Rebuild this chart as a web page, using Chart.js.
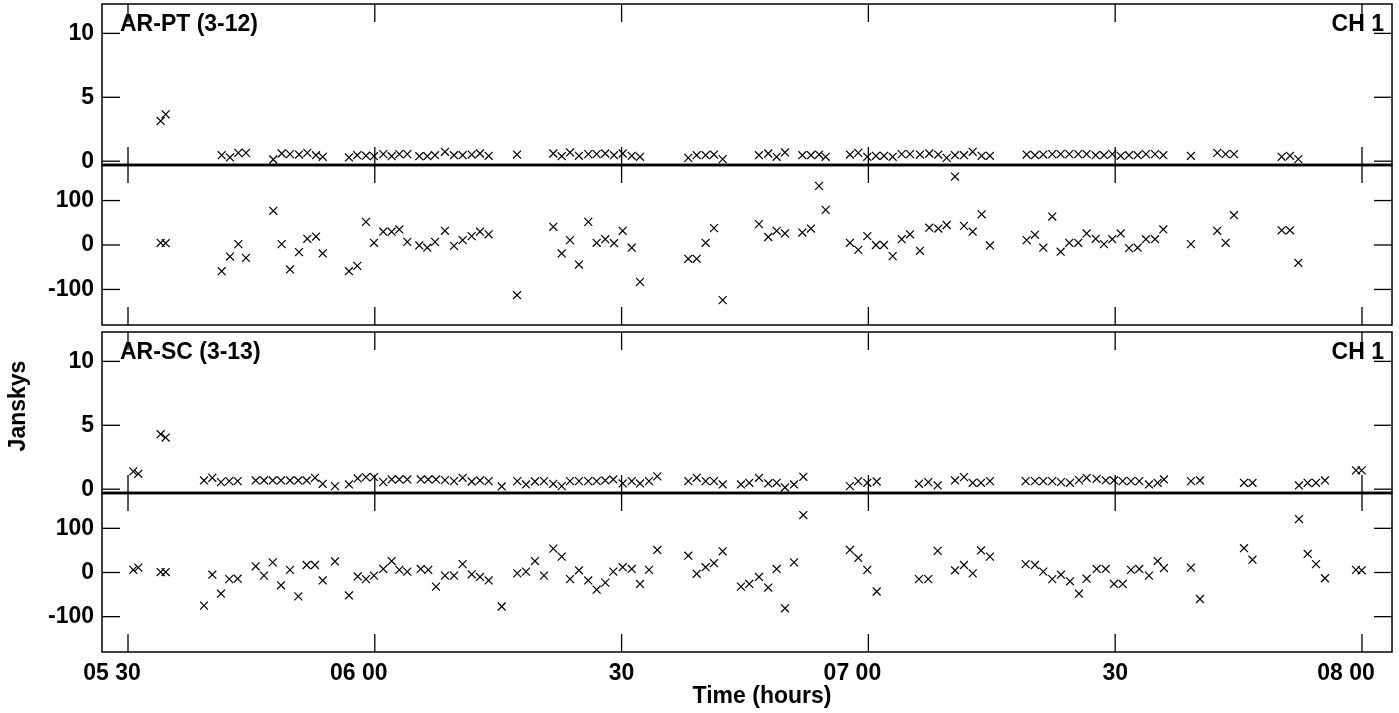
<!DOCTYPE html>
<html>
<head>
<meta charset="utf-8">
<script src="https://cdn.jsdelivr.net/npm/chart.js@4.4.0/dist/chart.umd.min.js"></script>
<style>
  html, body { margin: 0; padding: 0; background: #fff; }
  #wrap { position: relative; width: 1399px; height: 713px; overflow: hidden; }
  #wrap canvas { position: absolute; left: 0; }
</style>
</head>
<body>
<div id="wrap">
  <canvas id="ampPT"></canvas>
  <canvas id="phasePT"></canvas>
  <canvas id="ampSC"></canvas>
  <canvas id="phaseSC"></canvas>
</div>
<script>
// --- DONNEES (temps en minutes depuis 00:00) ---
const X_TICKS = [330, 360, 390, 420, 450, 480];
const X_TICK_LABELS = ['05 30', '06 00', '30', '07 00', '30', '08 00'];
const AMP_TICKS = [0, 5, 10];
const PHASE_TICKS = [-100, 0, 100];

// Base AR-PT (3-12)
const TIME_PT = [
  333.97, 334.58,
  341.39, 342.40, 343.41, 344.34,
  347.66, 348.68, 349.69, 350.79, 351.80, 352.85, 353.67,
  356.86, 357.87, 358.93, 359.90, 361.03, 362.05, 362.98, 363.95, 365.41, 366.38, 367.32, 368.53,
  369.63, 370.68, 371.78, 372.79, 373.84,
  377.29,
  381.70, 382.72, 383.73, 384.82, 385.95, 386.97, 388.02, 389.08, 390.13, 391.23, 392.24,
  398.11, 399.13, 400.22, 401.23, 402.29,
  406.70, 407.83, 408.85, 409.86,
  411.97, 413.02, 414.00, 414.81,
  417.76, 418.77, 419.87, 420.92, 421.90, 422.95, 424.05, 425.06,
  426.27, 427.40, 428.50, 429.52, 430.53, 431.62, 432.68, 433.77, 434.78,
  439.24, 440.25, 441.26, 442.35, 443.37, 444.42, 445.51, 446.53, 447.63, 448.64, 449.65, 450.67, 451.68, 452.73, 453.74, 454.84, 455.85,
  459.21,
  462.41, 463.43, 464.44,
  470.24, 471.25, 472.26
];
const AMP_PT = [
  3.15, 3.67,
  0.47, 0.29, 0.65, 0.65,
  0.13, 0.6, 0.55, 0.52, 0.65, 0.47, 0.34,
  0.29, 0.47, 0.43, 0.39, 0.55, 0.39, 0.55, 0.55, 0.39, 0.39, 0.47, 0.73,
  0.47, 0.47, 0.52, 0.6, 0.42,
  0.52,
  0.6, 0.39, 0.68, 0.42, 0.55, 0.55, 0.6, 0.47, 0.6, 0.42, 0.34,
  0.26, 0.47, 0.47, 0.52, 0.16,
  0.47, 0.6, 0.34, 0.68,
  0.47, 0.47, 0.52, 0.34,
  0.52, 0.65, 0.34, 0.42, 0.42, 0.34, 0.55, 0.55,
  0.52, 0.6, 0.52, 0.26, 0.47, 0.47, 0.73, 0.42, 0.42,
  0.52, 0.47, 0.52, 0.55, 0.55, 0.55, 0.55, 0.55, 0.47, 0.47, 0.55, 0.42, 0.47, 0.47, 0.55, 0.55, 0.47,
  0.42,
  0.65, 0.55, 0.55,
  0.34, 0.42, 0.16
];
const PHASE_PT = [
  5, 4,
  -59, -26, 2, -29,
  77, 2, -55, -16, 14, 19, -19,
  -59, -47, 52, 5, 30, 30, 35, 7, -1, -6, 7, 32,
  -2, 11, 20, 30, 24,
  -113,
  41, -19, 11, -44, 52, 5, 13, 4, 32, -6, -83,
  -31, -31, 5, 38, -124,
  47, 18, 32, 26,
  28, 37, 133, 79,
  5, -11, 20, 0, 0, -25, 13, 24,
  -13, 39, 37, 45, 154, 43, 30, 69, -1,
  11, 23, -6, 64, -15, 5, 5, 26, 14, 2, 13, 26, -7, -6, 13, 13, 35,
  2,
  32, 5, 67,
  33, 33, -40
];

// Base AR-SC (3-13)
const TIME_SC = [
  330.64, 331.25, 333.97, 334.58,
  339.24, 340.25, 341.30, 342.31, 343.33,
  345.52, 346.53, 347.59, 348.60, 349.69, 350.70, 351.72, 352.73, 353.67,
  355.16, 356.86, 357.92, 358.93, 359.90, 361.03, 362.05, 362.98, 363.95,
  365.58, 366.50, 367.44, 368.53,
  369.63, 370.68, 371.78, 372.79, 373.84,
  375.43, 377.32, 378.38, 379.47, 380.57, 381.70, 382.72, 383.73, 384.82, 385.95, 386.97, 388.02, 388.99, 390.13, 391.23, 392.24, 393.33, 394.34,
  398.11, 399.13, 400.22, 401.23, 402.29,
  404.51, 405.52, 406.70, 407.83, 408.85, 409.86, 410.96, 412.09,
  417.76, 418.77, 419.87, 421.01,
  426.15, 427.28, 428.42, 430.53, 431.62, 432.68, 433.69, 434.78,
  439.12, 440.25, 441.26, 442.35, 443.41, 444.51, 445.60, 446.53, 447.75, 448.85, 449.85, 450.91, 451.92, 452.93, 454.11, 455.16, 455.93,
  459.21, 460.31,
  465.66, 466.69,
  472.34, 473.40, 474.41, 475.50,
  479.27, 479.96
];
const AMP_SC = [
  1.39, 1.2, 4.3, 4.04,
  0.68, 0.89, 0.55, 0.63, 0.63,
  0.68, 0.68, 0.68, 0.68, 0.68, 0.68, 0.68, 0.89, 0.42,
  0.24, 0.37, 0.84, 0.94, 0.94, 0.55, 0.76, 0.76, 0.76,
  0.76, 0.76, 0.76, 0.71,
  0.63, 0.89, 0.6, 0.68, 0.63,
  0.21, 0.63, 0.37, 0.6, 0.63, 0.42, 0.24, 0.63, 0.63, 0.63, 0.63, 0.68, 0.76, 0.45, 0.63, 0.45, 0.63, 1.0,
  0.63, 0.89, 0.63, 0.63, 0.37,
  0.37, 0.5, 0.89, 0.45, 0.5, 0.13, 0.37, 0.97,
  0.24, 0.63, 0.5, 0.6,
  0.42, 0.55, 0.29, 0.68, 0.94, 0.5, 0.5, 0.63,
  0.63, 0.63, 0.63, 0.63, 0.55, 0.5, 0.71, 0.89, 0.81, 0.68, 0.68, 0.63, 0.63, 0.63, 0.37, 0.5, 0.76,
  0.63, 0.68,
  0.5, 0.5,
  0.29, 0.5, 0.5, 0.68,
  1.47, 1.47
];
const PHASE_SC = [
  6, 11, 1, 1,
  -75, -5, -48, -15, -14,
  14, -7, 23, -29, 6, -54, 17, 17, -18,
  25, -52, -9, -15, -7, 8, 26, 6, 2,
  8, 6, -32, -7,
  -7, 19, -4, -10, -18,
  -77, -2, 2, 26, -7, 54, 36, -15, 5, -18, -39, -23, 2, 12, 8, -26, 6, 51,
  38, -3, 12, 21, 48,
  -32, -26, -10, -34, 8, -81, 23, 130,
  51, 33, 6, -43,
  -15, -15, 49, 5, 17, -2, 50, 36,
  19, 17, 2, -15, -5, -20, -48, -14, 8, 8, -26, -26, 6, 8, -7, 26, 10,
  11, -60,
  55, 29,
  121, 42, 19, -13,
  6, 5
];

// --- CONFIGURATION ---
const FONT = '"Liberation Sans", Arial, Helvetica, sans-serif';
const FONT_SIZE = 23;
const TICK_LEN = 18;
const X_MIN = 326.84;
const X_MAX = 483.65;
const AMP_RANGE = [-0.3, 12.3];
const PHASE_RANGE = [-180, 180];
const PAD = 12;

const line = (ctx, x1, y1, x2, y2) => {
    ctx.beginPath();
    ctx.moveTo(x1, y1);
    ctx.lineTo(x2, y2);
    ctx.stroke();
};

// cadre, graduations internes et textes de chaque panneau
const framePlugin = {
    id: 'frame',
    afterDatasetsDraw(chart, args, opts) {
        const { ctx, chartArea: a, scales: { x, y } } = chart;
        ctx.save();
        ctx.strokeStyle = '#000';
        ctx.lineWidth = 1.5;
        ctx.strokeRect(a.left, a.top, a.right - a.left, a.bottom - a.top);

        // séparateur amplitude / phase plus épais
        if (opts.thick) {
            ctx.lineWidth = 2.6;
            const yy = opts.thick === 'bottom' ? a.bottom : a.top;
            line(ctx, a.left, yy, a.right, yy);
        }

        ctx.lineWidth = 1.3;
        opts.yTicks.forEach(v => {
            const py = y.getPixelForValue(v);
            line(ctx, a.left, py, a.left + TICK_LEN, py);
            line(ctx, a.right - TICK_LEN, py, a.right, py);
        });
        X_TICKS.forEach(v => {
            const px = x.getPixelForValue(v);
            line(ctx, px, a.top, px, a.top + TICK_LEN);
            line(ctx, px, a.bottom - TICK_LEN, px, a.bottom);
        });

        ctx.fillStyle = '#000';
        ctx.font = 'bold ' + FONT_SIZE + 'px ' + FONT;
        ctx.textBaseline = 'alphabetic';

        if (opts.title) {
            ctx.textAlign = 'left';
            ctx.fillText(opts.title, a.left + 18, a.top + 27);
            ctx.textAlign = 'right';
            ctx.fillText('CH 1', a.right - 8, a.top + 27);
        }

        if (opts.yTitle) {
            ctx.save();
            ctx.translate(19, a.top + 74);
            ctx.rotate(-Math.PI / 2);
            ctx.textAlign = 'center';
            ctx.textBaseline = 'middle';
            ctx.fillText('Janskys', 0, 0);
            ctx.restore();
        }

        if (opts.xLabels) {
            // les minutes sont centrées sur la graduation, l'heure à gauche
            X_TICKS.forEach((v, i) => {
                const px = x.getPixelForValue(v);
                const label = X_TICK_LABELS[i];
                const minutes = label.split(' ').pop();
                const w = ctx.measureText(minutes).width;
                ctx.textAlign = 'right';
                ctx.fillText(label, px + w / 2, a.bottom + 28);
            });
            ctx.textAlign = 'center';
            ctx.fillText('Time (hours)', (a.left + a.right) / 2 + 15, a.bottom + 51);
        }
        ctx.restore();
    }
};

const PANELS = [
    { id: 'ampPT', top: 4, bottom: 165, padBottom: PAD, times: TIME_PT, values: AMP_PT,
      range: AMP_RANGE, ticks: AMP_TICKS, frame: { title: 'AR-PT (3-12)', thick: 'bottom' } },
    { id: 'phasePT', top: 165, bottom: 325, padBottom: PAD, times: TIME_PT, values: PHASE_PT,
      range: PHASE_RANGE, ticks: PHASE_TICKS, frame: { thick: 'top' } },
    { id: 'ampSC', top: 332, bottom: 493, padBottom: PAD, times: TIME_SC, values: AMP_SC,
      range: AMP_RANGE, ticks: AMP_TICKS, frame: { title: 'AR-SC (3-13)', thick: 'bottom', yTitle: true } },
    { id: 'phaseSC', top: 493, bottom: 652, padBottom: 713 - 652, times: TIME_SC, values: PHASE_SC,
      range: PHASE_RANGE, ticks: PHASE_TICKS, frame: { thick: 'top', xLabels: true } }
];

const makeChart = (panel) => {
    const canvas = document.getElementById(panel.id);
    canvas.width = 1399;
    canvas.height = panel.bottom - panel.top + PAD + panel.padBottom;
    canvas.style.top = (panel.top - PAD) + 'px';

    return new Chart(canvas, {
        type: 'scatter',
        data: {
            datasets: [{
                data: panel.times.map((t, i) => ({ x: t, y: panel.values[i] })),
                pointStyle: 'crossRot',
                pointRadius: 5.6,
                pointBorderWidth: 1.2,
                pointBorderColor: '#000',
                pointBackgroundColor: '#000',
                borderColor: '#000',
                clip: false
            }]
        },
        options: {
            responsive: false,
            animation: false,
            devicePixelRatio: 1,
            events: [],
            layout: { padding: { top: PAD, bottom: panel.padBottom, left: 0, right: 7 } },
            plugins: {
                legend: { display: false },
                tooltip: { enabled: false },
                frame: Object.assign({ yTicks: panel.ticks }, panel.frame)
            },
            scales: {
                x: { type: 'linear', min: X_MIN, max: X_MAX, display: false },
                y: {
                    type: 'linear',
                    min: panel.range[0],
                    max: panel.range[1],
                    grid: { display: false, drawTicks: false },
                    border: { display: false },
                    ticks: {
                        color: '#000',
                        padding: 8,
                        font: { family: FONT, size: FONT_SIZE, weight: 'bold' }
                    },
                    afterBuildTicks: (axis) => {
                        axis.ticks = panel.ticks.map(v => ({ value: v }));
                    },
                    afterFit: (axis) => {
                        axis.width = 102;
                        axis.paddingTop = 0;
                        axis.paddingBottom = 0;
                    }
                }
            }
        },
        plugins: [framePlugin]
    });
};

PANELS.forEach(makeChart);
</script>
</body>
</html>
